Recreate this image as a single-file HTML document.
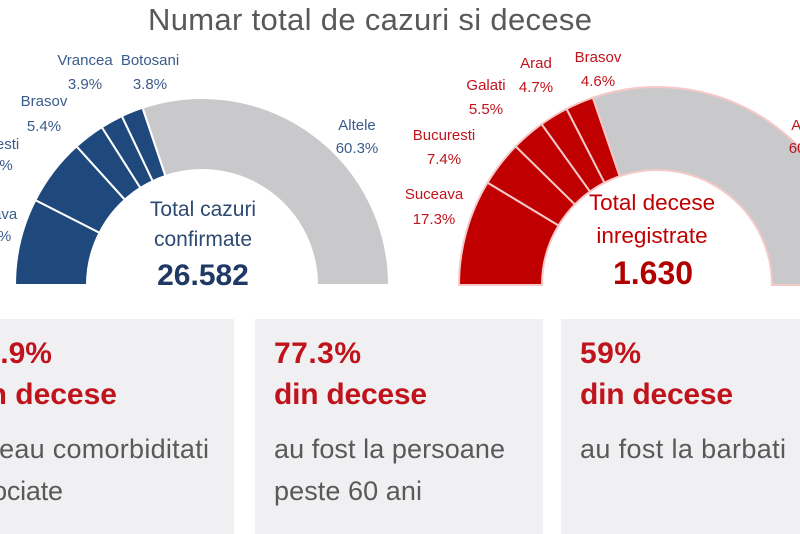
<!DOCTYPE html>
<html><head><meta charset="utf-8"><style>
html,body{margin:0;padding:0;background:#fff;width:800px;height:534px;overflow:hidden}
svg{display:block;font-family:"Liberation Sans",sans-serif}
</style></head><body>
<svg id="s" width="800" height="534" viewBox="0 0 800 534" xmlns="http://www.w3.org/2000/svg">
<rect x="0" y="319" width="234" height="215" fill="#f0f0f2"/>
<rect x="255" y="319" width="288" height="215" fill="#f0f0f2"/>
<rect x="561" y="319" width="239" height="215" fill="#f0f0f2"/>
<g id="donuts"></g>
<text x="148" y="30" textLength="444" font-size="31" fill="#595959">Numar total de cazuri si decese</text>
<g font-size="15" fill="#3b5b8c" text-anchor="middle">
<text x="85" y="65">Vrancea</text><text x="85" y="89">3.9%</text>
<text x="150" y="65">Botosani</text><text x="150" y="89">3.8%</text>
<text x="44" y="106">Brasov</text><text x="44" y="131">5.4%</text>
<text x="-12" y="149">Bucuresti</text><text x="-8" y="170">11.6%</text>
<text x="-12" y="219">Suceava</text><text x="-10" y="241">15.0%</text>
<text x="357" y="130">Altele</text><text x="357" y="153">60.3%</text>
</g>
<g font-size="15" fill="#c0141c" text-anchor="middle">
<text x="486" y="90">Galati</text><text x="486" y="114">5.5%</text>
<text x="536" y="68">Arad</text><text x="536" y="92">4.7%</text>
<text x="598" y="62">Brasov</text><text x="598" y="86">4.6%</text>
<text x="444" y="140">Bucuresti</text><text x="444" y="164">7.4%</text>
<text x="434" y="199">Suceava</text><text x="434" y="224">17.3%</text>
<text x="810" y="130">Altele</text><text x="810" y="153">60.5%</text>
</g>
<g text-anchor="middle">
<text x="203" y="216" font-size="21" fill="#2e4a70">Total cazuri</text>
<text x="203" y="246" font-size="21" fill="#2e4a70">confirmate</text>
<text x="203" y="285" font-size="30" font-weight="bold" fill="#1f3864">26.582</text>
<text x="652" y="210" font-size="22.5" fill="#c00000">Total decese</text>
<text x="652" y="243" font-size="22.5" fill="#c00000">inregistrate</text>
<text x="653" y="284" font-size="32" font-weight="bold" fill="#b00000">1.630</text>
</g>
<g font-weight="bold" fill="#c0141c">
<text x="52" y="363" text-anchor="end" font-size="30">80.9%</text>
<text x="117" y="404" text-anchor="end" font-size="30">din decese</text>
<text x="274" y="363" font-size="30" textLength="87">77.3%</text>
<text x="274" y="404" font-size="30" textLength="153">din decese</text>
<text x="580" y="363" font-size="30" textLength="61">59%</text>
<text x="580" y="404" font-size="30" textLength="153">din decese</text>
</g>
<g font-size="27" fill="#595959">
<text x="-30" y="458" textLength="239">aveau comorbiditati</text>
<text x="-36" y="500" textLength="99">asociate</text>
<text x="274" y="458" textLength="231">au fost la persoane</text>
<text x="274" y="500" textLength="148">peste 60 ani</text>
<text x="580" y="458" textLength="206">au fost la barbati</text>
</g>
</svg>
<script>
function arcs(cx,cy,R,r,fr,cols,stroke){
 var g=document.getElementById('donuts'),c=0,ns='http://www.w3.org/2000/svg';
 fr.forEach(function(f,i){
  var a0=Math.PI*(1-c),a1=Math.PI*(1-c-f);c+=f;
  var p=function(rad,a){return (cx+rad*Math.cos(a)).toFixed(2)+','+(cy-rad*Math.sin(a)).toFixed(2)};
  var d='M'+p(R,a0)+' A'+R+','+R+' 0 0 1 '+p(R,a1)+' L'+p(r,a1)+' A'+r+','+r+' 0 0 0 '+p(r,a0)+' Z';
  var e=document.createElementNS(ns,'path');e.setAttribute('d',d);e.setAttribute('fill',cols[i]);
  e.setAttribute('stroke',stroke);e.setAttribute('stroke-width','2');g.appendChild(e);
 });
}
var B='#1f497d',Rd='#c00000',G='#c9c9cb';
arcs(202,285,187,115,[0.15,0.116,0.054,0.039,0.038,0.603],[B,B,B,B,B,G],'#fff');
arcs(657,285,198,115,[0.173,0.074,0.055,0.047,0.046,0.605],[Rd,Rd,Rd,Rd,Rd,G],'#f6c9c9');
</script>
</body></html>
